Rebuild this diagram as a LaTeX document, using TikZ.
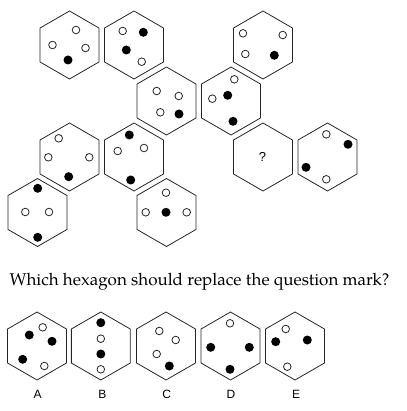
\documentclass[tikz,border=0pt]{standalone}
\usepackage{fontspec}
\setmainfont{TeX Gyre Pagella}
\setsansfont{Liberation Sans}
\tikzset{
  hexline/.style={draw=black!85, line width=0.8pt, line join=miter},
  odot/.style={draw=black!85, line width=0.8pt, fill=white},
  fdot/.style={fill=black},
  hexlabel/.style={font=\sffamily\fontsize{12}{13}\selectfont, inner sep=0pt, anchor=center},
}
\newcommand\hexat[2]{%
  \draw[hexline] (#1,#2) +(90:34) -- +(30:34) -- +(-30:34) -- +(-90:34) -- +(-150:34) -- +(150:34) -- cycle;}
\newcommand\hexdots[4]{%
  \hexat{#1}{#2}%
  \foreach \a/\b in {#3} {\draw[odot] (#1+\a,#2+\b) circle[radius=3.8pt];}%
  \foreach \a/\b in {#4} {\fill[fdot] (#1+\a,#2+\b) circle[radius=4.5pt];}%
}
\begin{document}
\begin{tikzpicture}[x=1pt,y=-1pt]
\useasboundingbox (0,0) rectangle (406,411);
% puzzle
\hexdots{69.5}{45}{6.5/-15,-17/0,16/3}{-1.5/15}
\hexdots{134}{45}{-11.3/-14,7.7/16.7}{9.3/-12.7,-7.7/5}
\hexdots{166.5}{101}{-9.8/-10,12.2/-5,-6.2/11.3}{12.5/13}
\hexdots{263}{45}{-20/-11.7,19.7/-10,-17.7/9}{11.3/10.3}
\hexdots{231}{101}{3.3/-21.7,-18.7/-2.3}{-3.3/-5.7,2/20.3}
\hexdots{69.5}{157}{-10.8/-18.7,-21.2/0.3,19.8/0.3}{-0.8/19.7}
\hexdots{134}{157}{10/-9,-16.3/-6}{-4.7/-22,-3.3/23}
\hexat{263}{157}
\node[hexlabel, font=\sffamily\fontsize{13}{14}\selectfont] (qm) at (262.5,157) {?};
\hexdots{327.5}{157}{-1.2/-22.7,-1.2/22.3}{20.5/-12.7,-21.5/10.3}
\hexdots{37.5}{212.5}{-12.2/-0.5,11.5/-0.5}{0.2/-24.2,0.2/24.8}
\hexdots{166.5}{212.5}{-0.5/-19.8,-20.8/-0.2,20.2/-0.2}{-0.5/-0.2}
% question
\node[anchor=base west, inner sep=0pt, font=\fontsize{17}{19}\selectfont] (question) at (9.3,285.7) {Which hexagon should replace the question mark?};
% options
\hexdots{37}{346}{5.7/-18.7,7.3/20}{-7.7/-11,15/-4.7,-14.3/13.3}
\hexdots{100.8}{346}{0/-7.3,0/23.3}{0/-23.3,0/8}
\hexdots{166}{346}{-6.7/-15,9.7/-6,-9.3/8}{3.3/20}
\hexdots{230.5}{346}{-0.5/-22.7}{-19.8/1.3,18.8/1.3,-0.5/23.3}
\hexdots{295}{346}{-9.3/-17,-7.7/20.7}{-19.3/-4.3,12.3/-6}
\node[hexlabel] (la) at (37.7,394.5) {A};
\node[hexlabel] (lb) at (102.3,394.5) {B};
\node[hexlabel] (lc) at (166.7,394.5) {C};
\node[hexlabel] (ld) at (231,394.5) {D};
\node[hexlabel] (le) at (296,394.5) {E};
\end{tikzpicture}
\end{document}
